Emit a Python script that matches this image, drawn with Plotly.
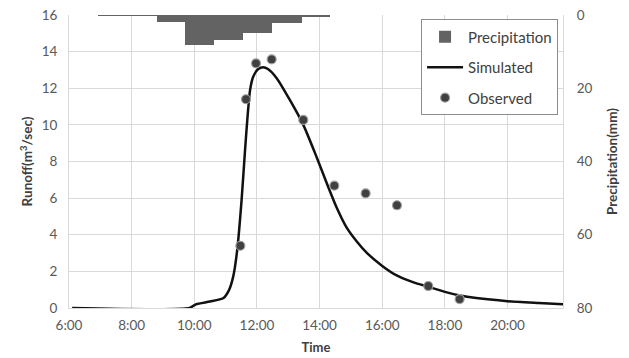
import plotly.graph_objects as go

# ---- data (hours as decimal) ----
precip_time = [7.39, 8.33, 9.26, 10.17, 11.09, 12.02, 12.96, 13.88]
precip_mm = [0.15, 0.15, 1.8, 8.2, 6.8, 5.0, 2.1, 0.5]

sim_time = [6.1, 9.85, 10.05, 10.5, 10.92, 11.1, 11.24, 11.37, 11.51, 11.62, 11.70,
            11.78, 11.88, 12.04, 12.2, 12.35, 12.63, 13.05, 13.48, 13.9, 14.22,
            14.54, 14.86, 15.2, 15.5, 16.0, 16.46, 17.0, 17.47, 18.0, 18.48,
            19.0, 20.0, 21.0, 21.77]
sim_runoff = [0.0, 0.0, 0.2, 0.35, 0.53, 0.95, 1.7, 3.17, 5.9, 8.63, 10.45,
              11.9, 12.63, 13.05, 13.15, 13.05, 12.55, 11.36, 10.0, 8.26, 6.85,
              5.5, 4.4, 3.6, 3.02, 2.3, 1.78, 1.4, 1.16, 0.88, 0.68,
              0.54, 0.37, 0.27, 0.2]

obs_time = [11.47, 11.65, 11.97, 12.47, 13.48, 14.47, 15.47, 16.47, 17.47, 18.47]
obs_runoff = [3.4, 11.4, 13.36, 13.58, 10.27, 6.68, 6.26, 5.61, 1.2, 0.49]

tick_vals = [6, 8, 10, 12, 14, 16, 18, 20]
tick_text = ["6:00", "8:00", "10:00", "12:00", "14:00", "16:00", "18:00", "20:00"]

FONT = "Lato"
TXT = "#595959"
TITLE = "#404040"
GRID = "#d9d9d9"

fig = go.Figure()

fig.add_trace(go.Bar(
    x=precip_time, y=precip_mm, width=0.93, yaxis="y2",
    name="Precipitation", legendgroup="p",
    marker=dict(color="#636363", line=dict(width=0)),
))
fig.add_trace(go.Scatter(
    x=sim_time, y=sim_runoff, mode="lines", name="Simulated", legendgroup="s",
    line=dict(color="#111111", width=2.5, shape="spline", smoothing=0.6),
))
fig.add_trace(go.Scatter(
    x=obs_time, y=obs_runoff, mode="markers", name="Observed", legendgroup="o",
    marker=dict(color="#404040", size=9, line=dict(color="#a0a0a0", width=1.2)),
))

fig.update_layout(
    width=629, height=358,
    margin=dict(l=69, r=66, t=15, b=50, autoexpand=False),
    paper_bgcolor="white", plot_bgcolor="white",
    font=dict(family=FONT, color=TXT, size=13.5),
    bargap=0,
    showlegend=True,
    legend=dict(
        x=0.99, xanchor="right", y=0.985, yanchor="top",
        bgcolor="white", bordercolor="#8c8c8c", borderwidth=1,
        font=dict(size=15, color=TITLE, family=FONT),
        tracegroupgap=8, itemwidth=36,
    ),
    xaxis=dict(
        range=[6, 21.77], tickvals=tick_vals, ticktext=tick_text,
        showgrid=True, gridcolor=GRID, gridwidth=1, automargin=False,
        showline=True, linecolor=GRID, mirror=False,
        zeroline=False, ticks="", ticklabelstandoff=5,
        title=dict(text="<b>Time</b>", font=dict(size=13, color=TITLE), standoff=10),
    ),
    yaxis=dict(
        range=[0, 16], dtick=2, showgrid=True, gridcolor=GRID, gridwidth=1,
        showline=True, linecolor=GRID, zeroline=False, ticks="", automargin=False,
        ticklabelstandoff=8,
        title=dict(text="<b>Runoff(m<sup>3</sup>/sec)</b>", font=dict(size=13.5, color=TITLE), standoff=5),
    ),
    yaxis2=dict(
        overlaying="y", side="right", range=[80, 0], tickvals=[0, 20, 40, 60, 80],
        showgrid=False, showline=True, linecolor=GRID, zeroline=False, ticks="",
        automargin=False, ticklabelstandoff=10,
        title=dict(text="<b>Precipitation(mm)</b>", font=dict(size=13.5, color=TITLE), standoff=16),
    ),
)

fig.write_html("out.html")
